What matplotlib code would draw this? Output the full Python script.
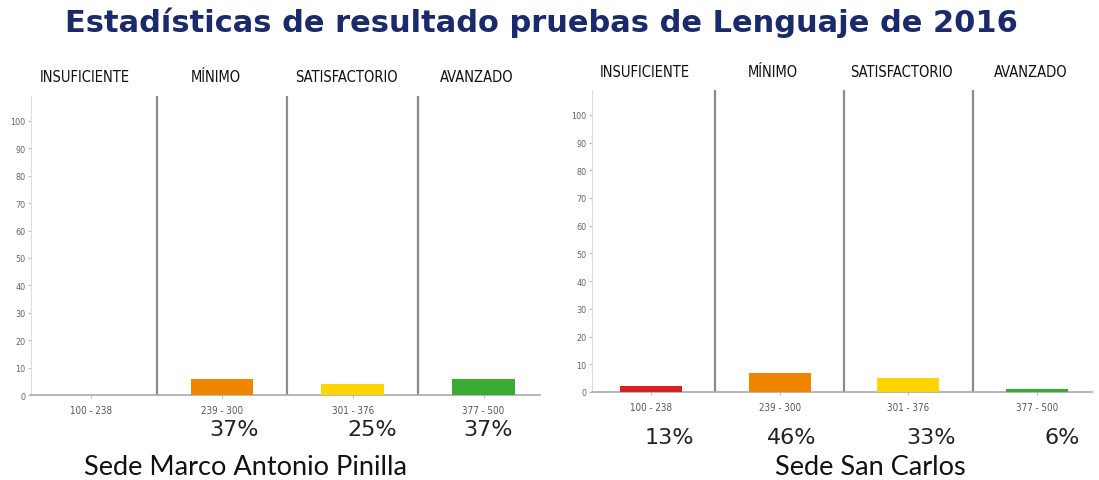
import matplotlib
matplotlib.use("Agg")
import matplotlib.pyplot as plt
import numpy as np

niveles = ["INSUFICIENTE", "MÍNIMO", "SATISFACTORIO", "AVANZADO"]
rangos = ["100 - 238", "239 - 300", "301 - 376", "377 - 500"]
colores = ["#d42222", "#f08500", "#ffd500", "#3aaa35"]

pinilla_vals = [0, 6, 4, 6]
pinilla_pct = ["", "37%", "25%", "37%"]
sancarlos_vals = [2, 7, 5, 1]
sancarlos_pct = ["13%", "46%", "33%", "6%"]

yticks = list(range(0, 101, 10))

fig = plt.figure(figsize=(10.99, 4.81), dpi=100)
fig.patch.set_facecolor("white")

fig.text(0.493, 0.952, "Estadísticas de resultado pruebas de Lenguaje de 2016",
         ha="center", va="center", fontsize=22, fontweight="bold",
         color="#1b2a6b", family="DejaVu Sans")


def panel(rect, vals, pct, pct_dx, pct_y, head_y, subtitle, sub_x):
    ax = fig.add_axes(rect)
    x = np.arange(len(vals))
    ax.bar(x, vals, width=0.48, color=colores, zorder=3)
    ax.set_xlim(-0.46, 3.43)
    ax.set_ylim(0, 109)
    ax.set_yticks(yticks)
    ax.set_yticklabels([str(t) for t in yticks], family="DejaVu Sans",
                       stretch="condensed", fontsize=6.5, color="#666666")
    ax.set_xticks(x)
    ax.set_xticklabels(rangos, family="DejaVu Sans", stretch="condensed",
                       fontsize=7, color="#555555")
    ax.tick_params(axis="y", length=2, color="#bbbbbb", pad=2)
    ax.tick_params(axis="x", length=2, color="#bbbbbb", pad=5)
    for s in ["top", "right"]:
        ax.spines[s].set_visible(False)
    ax.spines["left"].set_color("#dddddd")
    ax.spines["bottom"].set_color("#aaaaaa")
    ax.spines["bottom"].set_linewidth(1.2)
    for d in [0.5, 1.5, 2.5]:
        ax.axvline(d, color="#8c8c8c", lw=1.6, zorder=2)
    to_fig = fig.transFigure.inverted()
    for i, nombre in enumerate(niveles):
        xfig = to_fig.transform(ax.transData.transform((i - 0.05, 0)))[0]
        fig.text(xfig, head_y, nombre, ha="center", va="center",
                 family="DejaVu Sans", stretch="condensed", fontsize=10.5,
                 color="#111111")
    for i, p in enumerate(pct):
        xfig = to_fig.transform(ax.transData.transform((i + pct_dx[i], 0)))[0]
        fig.text(xfig, pct_y, p, ha="center", va="center",
                 family="DejaVu Sans", fontsize=16, color="#222222")
    fig.text(sub_x, 0.029, subtitle, ha="center", va="center",
             family="Lato", fontsize=19.5, color="#111111")
    return ax


panel([0.0282, 0.1767, 0.463, 0.621], pinilla_vals, pinilla_pct,
      [0, 0.09, 0.15, 0.03], 0.106, 0.838,
      "Sede Marco Antonio Pinilla", 0.223)
panel([0.5387, 0.183, 0.455, 0.628], sancarlos_vals, sancarlos_pct,
      [0.14, 0.09, 0.18, 0.20], 0.0895, 0.850,
      "Sede San Carlos", 0.792)

fig.savefig("out.png", dpi=100, facecolor="white")
